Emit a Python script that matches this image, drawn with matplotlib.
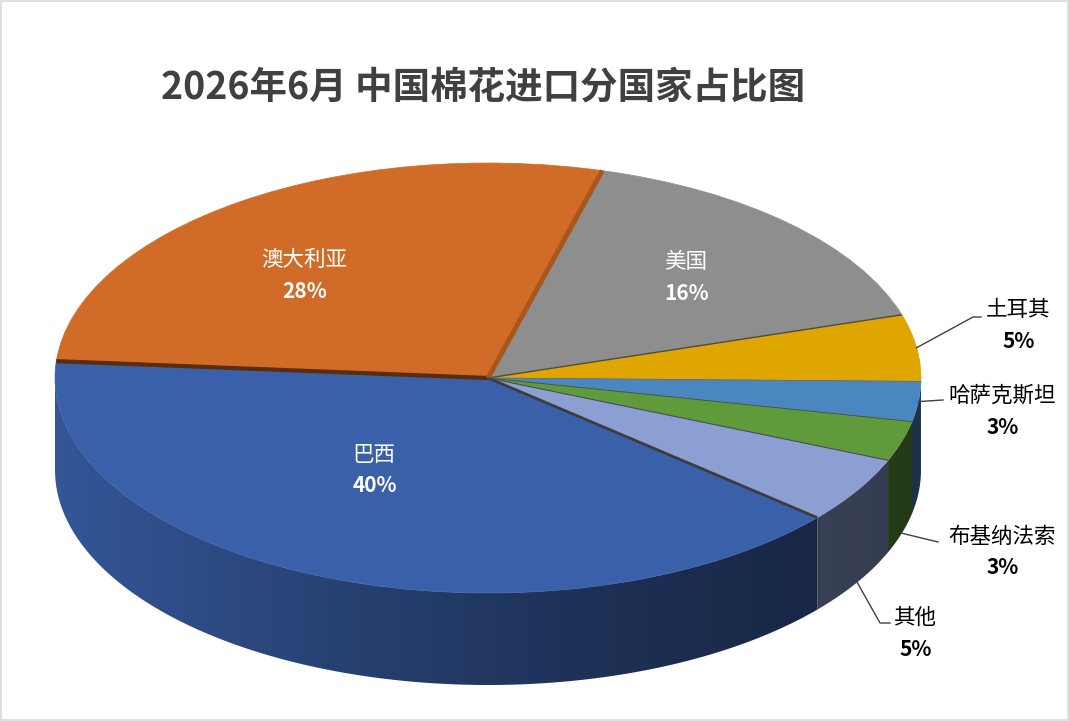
import numpy as np
import matplotlib.pyplot as plt
from matplotlib.patches import Wedge, Rectangle, Polygon
from matplotlib.transforms import Affine2D
from matplotlib.colors import to_rgb

plt.rcParams['font.family'] = ['Noto Sans CJK SC', 'DejaVu Sans']

TITLE = '2026年6月 中国棉花进口分国家占比图'
countries = ['巴西', '澳大利亚', '美国', '土耳其', '哈萨克斯坦', '布基纳法索', '其他']
shares = [40, 28, 16, 5, 3, 3, 5]
pct_labels = ['40%', '28%', '16%', '5%', '3%', '3%', '5%']
colors = ['#3A60A9', '#D06C28', '#8E8E8E', '#E0A600', '#4A86BF', '#5F9A3B', '#8C9FD3']

# pie geometry (pixels)
CX, CY = 488, 378
RX, RY = 433, 215
DEPTH = 92
START = -40.5

# label layout: (x, y) of the name, inside or outside
label_pos = [(374, 455), (304, 260), (686, 262), (1018, 310),
             (1002, 396), (1002, 537), (915, 618)]
label_inside = [True, True, True, False, False, False, False]
# leader lines for outside labels: start on top rim or wall bottom, then path
leader_drop = [0, 0, 0, 0, 0, 1, 1]
leader_path = [None, None, None, [(973, 317), (981, 317)], [(943, 400)],
               [(938, 542)], [(880, 623), (890, 623)]]

fig = plt.figure(figsize=(10.69, 7.21), dpi=100)
ax = fig.add_axes([0, 0, 1, 1])
ax.axis('off')


def rim(t, drop=0.0):
    r = np.radians(t)
    return CX + RX * np.cos(r), CY - RY * np.sin(r) + drop


def shade(x):
    # lighter wall on the left, darker toward the right
    u = np.clip((x - (CX - RX)) / (2 * RX), 0, 1)
    return 0.38 + 0.52 * (1 - u) ** 1.4


bounds = START - 3.6 * np.concatenate([[0], np.cumsum(shares)])
xcols = np.linspace(CX - RX, CX + RX, 800)

# side walls (only the front half is visible)
for i, col in enumerate(colors):
    t0, t1 = bounds[i], bounds[i + 1]
    ts = np.linspace(t0, t1, int((t0 - t1) / 0.4) + 2)
    ks = np.arange(np.ceil(t1 / 180), np.floor(t0 / 180) + 1) * 180
    ts = np.sort(np.unique(np.concatenate([ts, ks])))[::-1]
    vis = ts[np.sin(np.radians(ts)) <= 1e-9]
    if len(vis) < 2:
        continue
    top = [rim(t) for t in vis]
    bot = [rim(t, DEPTH) for t in vis[::-1]]
    wall = Polygon(top + bot, closed=True, facecolor='none', edgecolor='none')
    ax.add_patch(wall)
    base = np.array(to_rgb(col))
    grad = np.clip(shade(xcols)[:, None] * base[None, :], 0, 1)[None, :, :]
    im = ax.imshow(grad, extent=(CX - RX, CX + RX, CY + RY + DEPTH + 5, CY - 5),
                   aspect='auto', interpolation='bilinear', zorder=1)
    im.set_clip_path(wall)

# top face
tr = Affine2D().scale(RX, -RY).translate(CX, CY) + ax.transData
for i, col in enumerate(colors):
    ax.add_patch(Wedge((0, 0), 1, bounds[i + 1], bounds[i], facecolor=col,
                       edgecolor=col, lw=0.5, transform=tr, zorder=2))

# slice boundaries on the top face
line_style = [('#3C3C3C', 2.0), ('#5A2D0C', 3.0), ('#A9561C', 3.5), ('#4A4A4A', 1.0),
              ('#6A6A6A', 0.5), ('#4A4A4A', 0.6), ('#4A4A4A', 0.8)]
for i, (lc, lw) in enumerate(line_style):
    x1, y1 = rim(bounds[i])
    ax.plot([CX, x1], [CY, y1], color=lc, lw=lw, solid_capstyle='butt', zorder=3)

# labels
for i, name in enumerate(countries):
    x, y = label_pos[i]
    tc = 'white' if label_inside[i] else 'black'
    ax.text(x, y, name, ha='center', va='center', fontsize=15.5, color=tc, zorder=4)
    ax.text(x + 1, y + 31, pct_labels[i], ha='center', va='center', fontsize=15,
            fontweight='bold', color=tc, zorder=4)
    if leader_path[i] is not None:
        mid = (bounds[i] + bounds[i + 1]) / 2
        pts = [rim(mid, DEPTH * leader_drop[i])] + leader_path[i]
        xs, ys = zip(*pts)
        ax.plot(xs, ys, color='#404040', lw=1.0, zorder=4)

ax.text(483, 87, TITLE, ha='center', va='center', fontsize=27, fontweight='bold',
        color='#404040')

ax.add_patch(Rectangle((0.5, 0.5), 1067, 719, fill=False, edgecolor='#D9D9D9', lw=1.2))

ax.set_xlim(0, 1069)
ax.set_ylim(721, 0)
fig.savefig('out.png', dpi=100)
